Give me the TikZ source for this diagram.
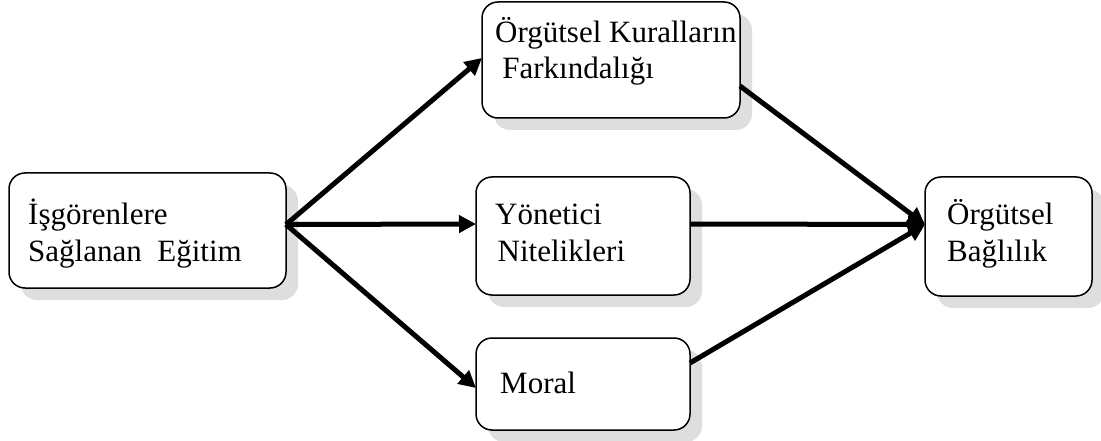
\documentclass[tikz,border=0pt]{standalone}
\usepackage{fontspec}
\setmainfont{Liberation Serif}
\usetikzlibrary{shadows,arrows.meta}
\begin{document}
\begin{tikzpicture}[x=1pt,y=-1pt,
  box/.style={draw=black, line width=1.5pt, rounded corners=16pt, fill=white,
    inner sep=0pt, outer sep=0pt,
    drop shadow={shadow xshift=12pt, shadow yshift=-12pt, fill=black!13, opacity=1}},
  lbl/.style={inner sep=0pt, anchor=base west, font=\fontsize{31}{36}\selectfont},
  flow/.style={line width=5pt, -{Triangle[length=17pt,width=17pt]}}]
\useasboundingbox (0,0) rectangle (1101,441);

% boxes
\node[box, minimum width=277pt, minimum height=115pt] (A) at (147.5,230.5) {};
\node[box, minimum width=258pt, minimum height=116pt] (B) at (611,60) {};
\node[box, minimum width=214pt, minimum height=118pt] (C) at (583,236) {};
\node[box, minimum width=214pt, minimum height=92pt] (D) at (583,384) {};
\node[box, minimum width=167pt, minimum height=119pt] (E) at (1008.5,236.5) {};

% box texts
\node[lbl] (tA) at (28,225) {\begin{tabular}[t]{@{}l@{}}İşgörenlere\\Sağlanan~~Eğitim\end{tabular}};
\node[lbl] (tB) at (495,43) {\begin{tabular}[t]{@{}l@{}}Örgütsel Kuralların\\\hspace*{0.23em}Farkındalığı\end{tabular}};
\node[lbl] (tC) at (495,225) {\begin{tabular}[t]{@{}l@{}}Yönetici\\\hspace*{0.08em}Nitelikleri\end{tabular}};
\node[lbl] (tD) at (500,393) {Moral};
\node[lbl] (tE) at (947,225) {\begin{tabular}[t]{@{}l@{}}Örgütsel\\Bağlılık\end{tabular}};

% connectors
\draw[flow] ([yshift=6pt]A.east) -- ([yshift=2pt]B.west);
\draw[flow] ([yshift=6pt]A.east) -- ([yshift=12pt]C.west);
\draw[flow] ([yshift=6pt]A.east) -- ([yshift=-4pt]D.west);
\draw[flow] ([yshift=-26pt]B.east) -- ([yshift=12pt]E.west);
\draw[flow] ([yshift=12pt]C.east) -- ([yshift=12pt]E.west);
\draw[flow] ([yshift=21pt]D.east) -- ([yshift=12pt]E.west);
\end{tikzpicture}
\end{document}
